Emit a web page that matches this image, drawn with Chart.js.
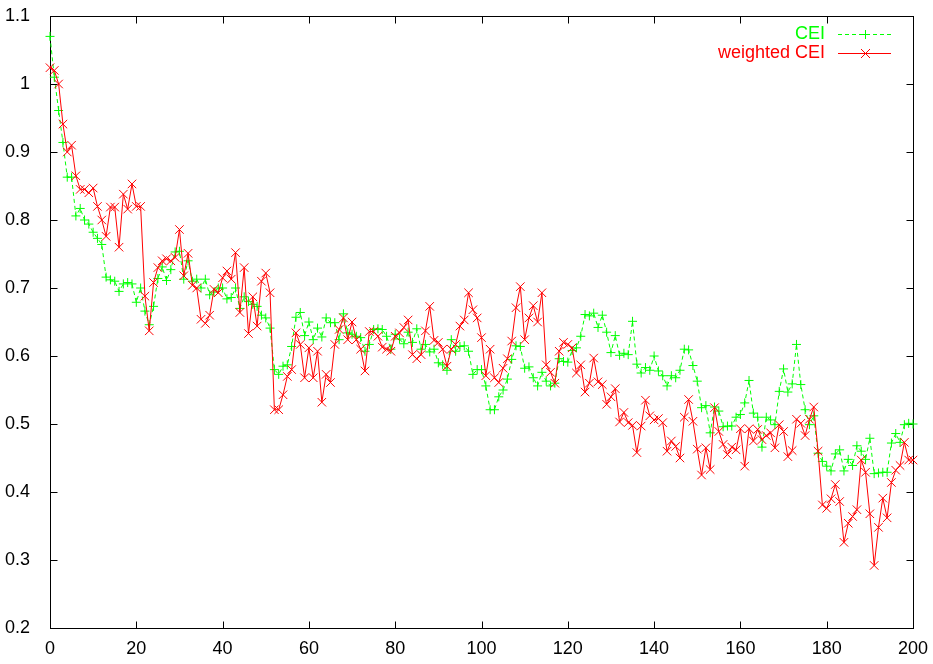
<!DOCTYPE html>
<html>
<head>
<meta charset="utf-8">
<script src="https://cdn.jsdelivr.net/npm/chart.js@4/dist/chart.umd.min.js"></script>
<style>
  html, body { margin: 0; padding: 0; background: #ffffff; }
  #wrap { width: 933px; height: 664px; position: relative; }
</style>
</head>
<body>
<div id="wrap"><canvas id="c" width="933" height="664"></canvas></div>
<script>
// ---- data ----
const seriesNames = ["CEI", "weighted CEI"];
const xTicks = [0, 20, 40, 60, 80, 100, 120, 140, 160, 180, 200];
const yTicks = [0.2, 0.3, 0.4, 0.5, 0.6, 0.7, 0.8, 0.9, 1.0, 1.1];

const cei = [
1.07,1.01,0.961,0.914,0.863,0.863,0.806,0.817,0.80,0.794,
0.782,0.773,0.764,0.716,0.712,0.71,0.695,0.706,0.708,0.706,
0.679,0.70,0.666,0.646,0.673,0.714,0.731,0.711,0.727,0.753,
0.754,0.713,0.74,0.71,0.713,0.70,0.713,0.69,0.694,0.70,
0.70,0.684,0.686,0.70,0.67,0.687,0.68,0.676,0.673,0.66,
0.656,0.641,0.58,0.573,0.585,0.587,0.614,0.657,0.664,0.63,
0.65,0.624,0.641,0.628,0.656,0.649,0.649,0.624,0.662,0.634,
0.632,0.629,0.627,0.607,0.617,0.639,0.64,0.639,0.629,0.61,
0.632,0.625,0.618,0.635,0.62,0.64,0.61,0.617,0.606,0.61,
0.59,0.587,0.579,0.624,0.607,0.614,0.615,0.607,0.573,0.58,
0.58,0.556,0.521,0.521,0.54,0.55,0.566,0.595,0.615,0.614,
0.582,0.584,0.568,0.556,0.576,0.563,0.556,0.56,0.596,0.592,
0.591,0.608,0.612,0.629,0.661,0.659,0.663,0.642,0.66,0.635,
0.605,0.63,0.601,0.604,0.602,0.651,0.588,0.575,0.583,0.579,
0.60,0.578,0.571,0.556,0.571,0.568,0.579,0.61,0.609,0.586,
0.563,0.524,0.527,0.487,0.525,0.519,0.496,0.497,0.497,0.51,
0.514,0.531,0.564,0.516,0.51,0.466,0.51,0.506,0.499,0.548,
0.581,0.547,0.559,0.617,0.558,0.521,0.499,0.512,0.457,0.445,
0.438,0.431,0.456,0.462,0.431,0.448,0.439,0.468,0.46,0.448,
0.479,0.427,0.428,0.429,0.429,0.472,0.486,0.473,0.499,0.501,
0.50
];

const weightedCei = [
1.024,1.02,1.0,0.941,0.90,0.91,0.865,0.845,0.845,0.84,
0.847,0.82,0.80,0.776,0.819,0.819,0.76,0.838,0.816,0.853,
0.82,0.82,0.688,0.637,0.708,0.73,0.74,0.743,0.74,0.745,
0.786,0.718,0.751,0.704,0.70,0.654,0.648,0.66,0.698,0.693,
0.715,0.725,0.713,0.752,0.664,0.73,0.633,0.687,0.644,0.71,
0.722,0.693,0.521,0.521,0.543,0.57,0.58,0.634,0.617,0.568,
0.612,0.568,0.607,0.532,0.573,0.561,0.617,0.639,0.656,0.624,
0.65,0.624,0.61,0.578,0.636,0.636,0.629,0.613,0.61,0.607,
0.629,0.634,0.642,0.653,0.602,0.596,0.602,0.637,0.673,0.623,
0.62,0.61,0.585,0.61,0.617,0.644,0.653,0.693,0.668,0.656,
0.627,0.571,0.61,0.568,0.561,0.582,0.596,0.622,0.671,0.702,
0.624,0.656,0.674,0.65,0.693,0.587,0.576,0.56,0.607,0.62,
0.617,0.612,0.575,0.587,0.547,0.56,0.597,0.562,0.558,0.529,
0.54,0.552,0.503,0.517,0.502,0.498,0.458,0.497,0.535,0.512,
0.506,0.508,0.502,0.46,0.475,0.467,0.45,0.51,0.536,0.504,
0.463,0.425,0.465,0.433,0.524,0.489,0.47,0.455,0.466,0.462,
0.493,0.438,0.493,0.475,0.492,0.477,0.483,0.487,0.465,0.499,
0.489,0.452,0.461,0.507,0.501,0.483,0.507,0.525,0.46,0.381,
0.376,0.39,0.411,0.386,0.326,0.354,0.364,0.374,0.447,0.429,
0.368,0.292,0.348,0.391,0.362,0.414,0.432,0.439,0.473,0.447,
0.447
];

// ---- styling ----
const GREEN = "#00ff00";
const RED = "#ff0000";
const FONT = "'Liberation Sans', Arial, Helvetica, sans-serif";

const toPoints = arr => arr.map((v, i) => ({ x: i, y: v }));

// frame + inward ticks on all four sides (gnuplot style)
const framePlugin = {
  id: "frame",
  beforeDatasetsDraw(chart) {
    const { ctx, chartArea: a, scales } = chart;
    const L = Math.round(a.left) + 0.5, R = Math.round(a.right) + 0.5;
    const T = Math.round(a.top) + 0.5, B = Math.round(a.bottom) + 0.5;
    ctx.save();
    ctx.strokeStyle = "#000";
    ctx.lineWidth = 1;
    ctx.strokeRect(L, T, R - L, B - T);
    const tl = 7;
    ctx.beginPath();
    xTicks.forEach(v => {
      const px = Math.round(scales.x.getPixelForValue(v)) + 0.5;
      ctx.moveTo(px, B); ctx.lineTo(px, B - tl);
      ctx.moveTo(px, T); ctx.lineTo(px, T + tl);
    });
    yTicks.forEach(v => {
      const py = Math.round(scales.y.getPixelForValue(v)) + 0.5;
      ctx.moveTo(L, py); ctx.lineTo(L + tl, py);
      ctx.moveTo(R, py); ctx.lineTo(R - tl, py);
    });
    ctx.stroke();
    ctx.restore();
  }
};

// gnuplot-like key in the upper right
const keyPlugin = {
  id: "key",
  afterDraw(chart) {
    const { ctx, chartArea: a } = chart;
    const textRight = a.right - 88;
    const x0 = a.right - 75, x1 = a.right - 22;
    const xm = Math.round((x0 + x1) / 2);
    const rows = [
      { label: seriesNames[0], color: GREEN, dash: [4, 3], marker: "plus", y: Math.round(a.top + 18) },
      { label: seriesNames[1], color: RED, dash: [], marker: "x", y: Math.round(a.top + 37) }
    ];
    rows.forEach(r => {
      ctx.save();
      ctx.globalAlpha = 1;
      ctx.font = "18px " + FONT;
      ctx.textAlign = "right";
      ctx.textBaseline = "middle";
      ctx.fillStyle = r.color;
      ctx.fillText(r.label, textRight, r.y);
      ctx.lineWidth = 1;
      ctx.setLineDash(r.dash);
      ctx.strokeStyle = r.color;
      ctx.beginPath();
      ctx.moveTo(x0, r.y + 0.5);
      ctx.lineTo(x1, r.y + 0.5);
      ctx.stroke();
      ctx.setLineDash([]);
      ctx.strokeStyle = r.color;
      ctx.beginPath();
      if (r.marker === "plus") {
        ctx.moveTo(xm - 4, r.y + 0.5); ctx.lineTo(xm + 5, r.y + 0.5);
        ctx.moveTo(xm + 0.5, r.y - 4); ctx.lineTo(xm + 0.5, r.y + 5);
      } else {
        ctx.moveTo(xm - 4, r.y - 4); ctx.lineTo(xm + 5, r.y + 5);
        ctx.moveTo(xm - 4, r.y + 5); ctx.lineTo(xm + 5, r.y - 4);
      }
      ctx.stroke();
      ctx.restore();
    });
  }
};

new Chart(document.getElementById("c"), {
  type: "line",
  data: {
    datasets: [
      {
        label: seriesNames[0],
        data: toPoints(cei),
        borderColor: GREEN,
        backgroundColor: GREEN,
        borderWidth: 1,
        borderDash: [4, 3],
        pointStyle: "cross",
        pointRadius: 4.5,
        pointBorderWidth: 1,
        pointBorderColor: GREEN,
        tension: 0,
        fill: false,
        clip: false,
        order: 1
      },
      {
        label: seriesNames[1],
        data: toPoints(weightedCei),
        borderColor: RED,
        backgroundColor: RED,
        borderWidth: 1,
        pointStyle: "crossRot",
        pointRadius: 6,
        pointBorderWidth: 1,
        pointBorderColor: RED,
        tension: 0,
        fill: false,
        clip: false,
        order: 0
      }
    ]
  },
  options: {
    responsive: false,
    animation: false,
    devicePixelRatio: 1,
    layout: { padding: { left: 0, right: 20, top: 16, bottom: 0 } },
    plugins: {
      legend: { display: false },
      tooltip: { enabled: false },
      title: { display: false }
    },
    scales: {
      x: {
        type: "linear",
        min: 0,
        max: 200,
        afterBuildTicks: s => { s.ticks = xTicks.map(v => ({ value: v })); },
        afterFit: s => { s.height = 36; s.paddingLeft = 0; s.paddingRight = 0; },
        grid: { display: false },
        border: { display: false },
        ticks: {
          color: "#000",
          font: { family: FONT, size: 18 },
          padding: 2,
          maxRotation: 0,
          autoSkip: false,
          callback: v => String(v)
        }
      },
      y: {
        type: "linear",
        min: 0.2,
        max: 1.1,
        afterBuildTicks: s => { s.ticks = yTicks.map(v => ({ value: v })); },
        afterFit: s => { s.width = 50; s.paddingTop = 0; s.paddingBottom = 0; },
        grid: { display: false },
        border: { display: false },
        ticks: {
          color: "#000",
          font: { family: FONT, size: 18 },
          padding: 12,
          autoSkip: false,
          callback: v => String(Number(v.toFixed(1)))
        }
      }
    }
  },
  plugins: [framePlugin, keyPlugin]
});
</script>
</body>
</html>
